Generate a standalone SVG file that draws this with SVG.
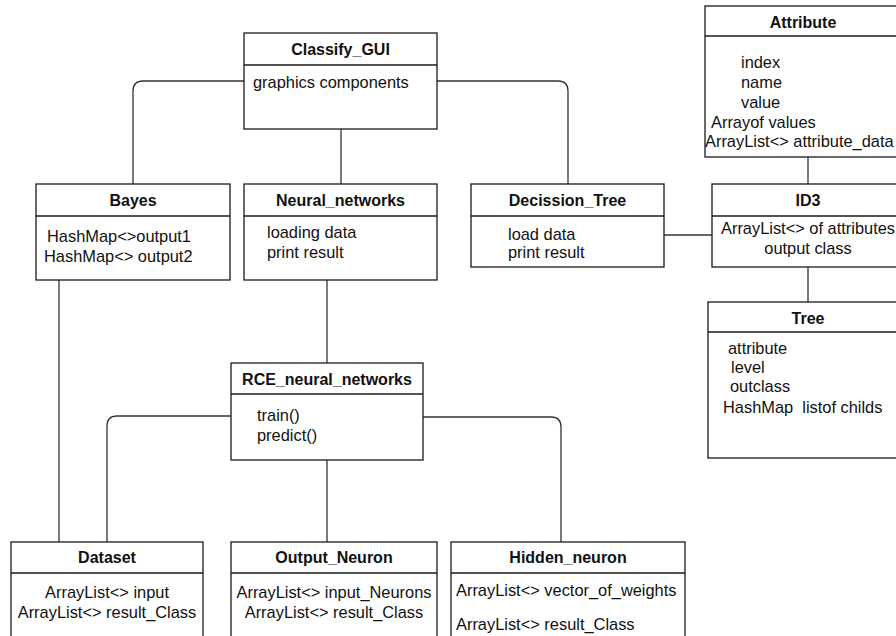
<svg xmlns="http://www.w3.org/2000/svg" width="896" height="636" viewBox="0 0 896 636">
<style>
.box{fill:#fff;stroke:#1a1a1a;stroke-width:1.3}
.div{stroke:#1a1a1a;stroke-width:1.3;fill:none}
.conn{stroke:#333;stroke-width:1.3;fill:none}
text{font-family:"Liberation Sans",Arial,sans-serif;font-size:16.4px;fill:#111}
.t{font-weight:bold;font-size:16px;text-anchor:middle}
.c{text-anchor:middle}
.pre{white-space:pre}
</style>
<rect width="896" height="636" fill="#fff"/>
<g id="connectors">
<path class="conn" d="M244,81 H143 Q133,81 133,91 V184"/>
<path class="conn" d="M437,81 H558 Q568,81 568,91 V184"/>
<path class="conn" d="M341,129 V184"/>
<path class="conn" d="M664,235 H712"/>
<path class="conn" d="M808,157 V184"/>
<path class="conn" d="M808,267 V302"/>
<path class="conn" d="M327,280 V363"/>
<path class="conn" d="M59,280 V542"/>
<path class="conn" d="M231,416 H117 Q107,416 107,426 V542"/>
<path class="conn" d="M423,417 H551 Q561,417 561,427 V542"/>
<path class="conn" d="M327,460 V542"/>
</g>
<g id="Classify_GUI">
<rect class="box" x="244" y="33" width="193" height="96"/>
<path class="div" d="M244,65 H437"/>
<text class="t" x="340.5" y="55">Classify_GUI</text>
<text x="253" y="88">graphics components</text>
</g>
<g id="Attribute">
<rect class="box" x="705" y="6" width="200" height="151"/>
<path class="div" d="M705,36 H905"/>
<text class="t" x="803" y="28">Attribute</text>
<text x="741" y="68">index</text>
<text x="741" y="88">name</text>
<text x="741" y="108">value</text>
<text x="711" y="128">Arrayof values</text>
<text x="705" y="147">ArrayList&lt;&gt; attribute_data</text>
</g>
<g id="Bayes">
<rect class="box" x="36" y="184" width="194" height="96"/>
<path class="div" d="M36,216 H230"/>
<text class="t" x="133" y="206">Bayes</text>
<text x="47" y="242">HashMap&lt;&gt;output1</text>
<text x="44" y="262">HashMap&lt;&gt; output2</text>
</g>
<g id="Neural_networks">
<rect class="box" x="244" y="184" width="193" height="96"/>
<path class="div" d="M244,216 H437"/>
<text class="t" x="340.5" y="206">Neural_networks</text>
<text x="267" y="238">loading data</text>
<text x="267" y="258">print result</text>
</g>
<g id="Decission_Tree">
<rect class="box" x="471" y="184" width="193" height="83"/>
<path class="div" d="M471,216 H664"/>
<text class="t" x="567.5" y="206">Decission_Tree</text>
<text x="508" y="240">load data</text>
<text x="508" y="258">print result</text>
</g>
<g id="ID3">
<rect class="box" x="712" y="184" width="194" height="83"/>
<path class="div" d="M712,216 H906"/>
<text class="t" x="808" y="206">ID3</text>
<text x="721" y="234">ArrayList&lt;&gt; of attributes</text>
<text class="c" x="808" y="254">output class</text>
</g>
<g id="Tree">
<rect class="box" x="708" y="302" width="200" height="156"/>
<path class="div" d="M708,332 H908"/>
<text class="t" x="808" y="324">Tree</text>
<text x="728" y="354">attribute</text>
<text x="731" y="373">level</text>
<text x="730" y="392">outclass</text>
<text class="pre" x="723" y="413" xml:space="preserve">HashMap  listof childs</text>
</g>
<g id="RCE_neural_networks">
<rect class="box" x="231" y="363" width="192" height="97"/>
<path class="div" d="M231,394 H423"/>
<text class="t" x="327" y="385">RCE_neural_networks</text>
<text x="257" y="421">train()</text>
<text x="257" y="441">predict()</text>
</g>
<g id="Dataset">
<rect class="box" x="11" y="542" width="192" height="110"/>
<path class="div" d="M11,573 H203"/>
<text class="t" x="107" y="563">Dataset</text>
<text class="c" x="107" y="598">ArrayList&lt;&gt; input</text>
<text class="c" x="107" y="618">ArrayList&lt;&gt; result_Class</text>
</g>
<g id="Output_Neuron">
<rect class="box" x="231" y="542" width="206" height="110"/>
<path class="div" d="M231,573 H437"/>
<text class="t" x="334" y="563">Output_Neuron</text>
<text class="c" x="334" y="598">ArrayList&lt;&gt; input_Neurons</text>
<text class="c" x="334" y="618">ArrayList&lt;&gt; result_Class</text>
</g>
<g id="Hidden_neuron">
<rect class="box" x="451" y="542" width="234" height="110"/>
<path class="div" d="M451,573 H685"/>
<text class="t" x="568" y="563">Hidden_neuron</text>
<text x="456" y="596">ArrayList&lt;&gt; vector_of_weights</text>
<text x="456" y="630">ArrayList&lt;&gt; result_Class</text>
</g>
</svg>
